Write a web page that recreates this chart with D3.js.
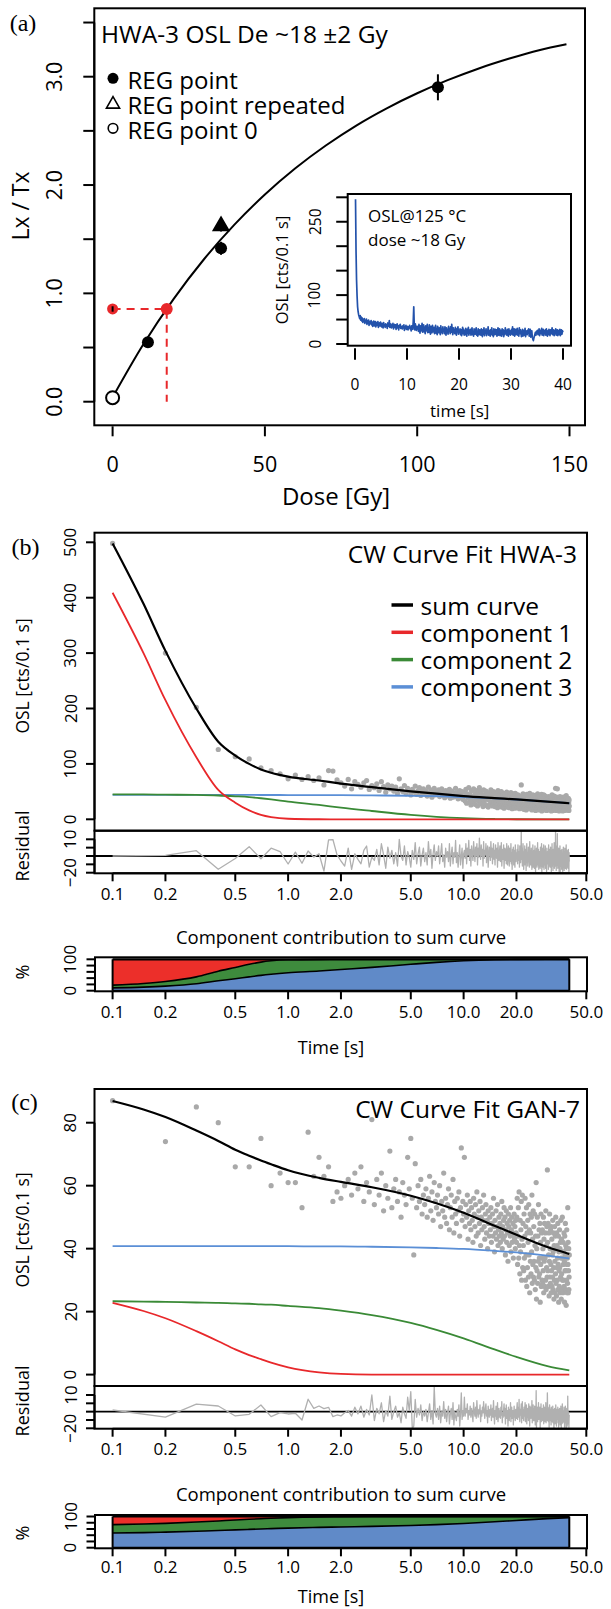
<!DOCTYPE html>
<html><head><meta charset="utf-8">
<script src="https://cdn.jsdelivr.net/npm/d3@7"></script>
<style>
html,body{margin:0;padding:0;background:#fff;}
svg{display:block;font-family:"Open Sans",sans-serif;}
</style></head><body>
<svg id="fig" width="611" height="1609"></svg>
<script>
// ================= DATA =================
// (a) dose-response curve
const regDose = [11.6, 35.6, 106.8];
const regLxTx = [0.548, 1.416, 2.902];
const regErr = [0.02, 0.06, 0.12];
const repDose = [35.6];
const repLxTx = [1.631];
const repErr = [0.06];
const zeroDose = [0];
const zeroLxTx = [0.037];
const natDose = [0];
const natLxTx = [0.856];
const natErr = [0.025];
const deDose = [17.77];
const fitDose = [0,10,20,30,40,50,60,70,80,90,100,110,120,130,140,149];
const fitLxTx = [0.04,0.525,0.947,1.315,1.634,1.913,2.155,2.365,2.549,2.708,2.847,2.968,3.074,3.165,3.245,3.30];
const doseTicks = [0,50,100,150];
const lxTicks = [0,0.5,1,1.5,2,2.5,3,3.5];
const lxTickLabels = ["0.0","","1.0","","2.0","","3.0",""];
const legendA = ["REG point","REG point repeated","REG point 0"];

// (a) inset OSL decay curve, 0.1 s channels
const insetCounts = [
296,190,131,98,76,66,60,56,52,58, 49,55,47,53,44,50,46,52,42,48,
45,51,40,47,43,49,38,46,41,44, 48,39,45,36,43,47,37,42,46,35,
41,44,38,46,34,40,43,37,45,39, 35,42,38,33,44,37,40,34,41,36,
39,32,43,36,38,48,34,37,41,33, 38,35,42,31,37,40,34,39,30,36,
41,33,37,29,38,35,40,32,36,34, 31,37,33,39,28,35,32,38,30,34,
36,29,35,33,38,31,34,27,37,32, 30,46,76,35,29,41,33,28,36,31,
36,26,40,30,22,37,27,33,42,24, 29,39,25,34,21,37,27,31,40,23,
33,24,39,28,20,36,26,23,38,30, 25,34,21,29,38,22,31,19,36,27,
23,33,28,19,37,24,30,21,35,26, 30,21,35,25,18,33,23,29,20,36,
26,31,21,35,24,40,28,19,33,23, 29,21,34,24,18,31,26,35,20,28,
24,31,19,29,17,27,34,21,30,18, 27,19,32,24,16,30,22,34,18,28,
22,30,18,27,33,19,25,16,31,23, 20,28,33,18,26,16,31,23,19,29,
26,18,31,23,15,29,20,33,17,27, 23,31,17,26,21,35,18,28,24,16,
29,20,33,18,26,15,31,23,19,30, 20,29,16,27,33,18,24,31,17,28,
24,16,31,20,29,15,27,19,33,21, 27,18,30,23,16,31,20,27,18,25,
30,20,35,18,27,31,16,24,30,19, 25,32,18,27,16,33,21,29,24,15,
22,30,16,28,25,18,32,15,27,21, 19,28,22,31,16,25,30,14,22,27,
14,10,7,12,16,20,24,18,26,21, 28,19,25,31,17,28,21,26,32,18,
24,30,17,27,21,29,18,31,23,16, 27,19,30,24,17,29,21,26,33,19,
24,29,17,27,21,31,18,25,29,17, 22,28,19,30,17,25,29,20,27,24];
const insetTimeTicks = [0,10,20,30,40];
const insetCountTicks = [0,50,100,150,200,250,300];
const insetCountLabels = ["0","","100","","","250",""];

// time axis of the CW curves (log)
const timeTicks = [0.1,0.2,0.5,1,2,5,10,20,50];
const timeTickLabels = ["0.1","0.2","0.5","1.0","2.0","5.0","10.0","20.0","50.0"];
const resTicks = [-20,-12.5,-5,2.5,10];
const resTickLabels = ["\u221220","","","","10"];
const resRefLine = -5;
const pctTicks = [0,20,40,60,80,100];
const pctTickLabels = ["0","","","","","100"];

// (b) HWA-3 fit
const compTime = [0.1,0.15,0.2,0.3,0.4,0.5,0.6,0.7,0.8,1,1.5,2,3,5,7,10,15,20,30,40];
const bComp1 = [409,300,215,112,53,30,16,8,4,1,0.1,0,0,0,0,0,0,0,0,0];
const bComp2 = [45,45,44.5,44,43,41.5,40,38,36,32,26,21,15,8,4.5,2,0.5,0.1,0,0];
const bComp3 = [44,44,44,44,44,44,44,43.9,43.9,43.8,43.6,43.5,43.1,42.5,41.7,40,37.8,35.7,32,29];
const bSum   = [498,389,304,200,140,115,100,90,84,77,70,64.5,58,50.5,46.2,42,38.3,35.8,32,29];
const bYTicks = [0,100,200,300,400,500];
const bObs = [
498,300,202,126,113,109,93,88,82,73, 80,72,77,70,75,62,88,87,71,66,
60,72,55,68,63,58,66,70,54,61, 57,64,52,68,59,49,62,55,60,51,
58,47,73,55,50,61,46,56,52,44, 54,49,60,45,52,57,43,50,55,47,
51,42,58,47,53,40,49,56,44,50, 46,53,41,48,55,43,47,39,52,45,
49,42,54,38,46,51,40,47,44,56, 41,48,37,45,52,39,44,50,36,47,
48,33,54,29,46,39,57,31,44,26, 51,37,30,55,42,27,47,35,52,24,
46,32,57,38,28,50,34,43,23,53, 30,44,36,51,25,41,48,22,35,47,
39,28,53,33,45,24,37,50,29,42, 23,48,35,31,44,21,52,34,27,40,
45,26,38,50,22,34,43,29,47,20, 36,45,27,41,24,49,32,22,39,46,
31,21,43,35,26,48,23,37,19,42, 34,46,22,30,40,20,47,33,25,38,
29,41,21,44,33,24,38,19,42,31, 23,37,62,26,41,20,34,46,25,18,
39,28,43,21,33,40,17,31,45,24, 35,20,29,42,24,36,19,47,27,38,
21,32,41,24,17,37,28,44,20,34, 25,39,19,31,43,23,16,36,27,41,
30,20,34,46,21,28,40,17,33,24, 37,25,18,42,29,21,35,45,15,27,
32,23,40,19,30,44,17,26,38,21, 28,42,18,35,24,31,16,39,26,33,
20,36,26,17,41,29,19,34,23,38, 18,31,40,21,27,15,37,24,44,19,
34,23,16,38,28,20,32,42,18,26, 36,19,29,56,24,33,16,27,40,21,
31,55,23,18,37,26,19,39,28,15, 24,35,20,41,16,31,26,19,37,23,
29,17,38,22,34,20,15,32,25,40, 19,37,26,16,33,23,39,20,35,17,
27,20,34,43,17,30,22,37,19,32, 23,33,17,28,38,20,30,16,35,24];
const bRes = [
-5,-4.5,-0.2,-16.9,-7.2,3.4,-7.5,2,-1,-12.2, -1.5,-11.5,-0.5,-6,-3,-18.5,9.4,9.8,-4,-9.5,
-14,2,-17,-3,-8,-12,0,4,-15,-6, -9,1,-13,6,-4,-16,3,-7,0,-12,
-2,-14,10,-5,-9,4,-13,-1,-6,-15, 0,-8,7,-12,-3,3,-14,-4,2,-10,
-2,-13,8,-6,1,-16,-3,5,-9,-1, -5,4,-12,-3,6,-10,-4,-15,2,-6,
-1,-10,6,-14,-3,3,-12,-2,-6,9, -11,-2,-15,-4,5,-13,-5,2,-16,-3,
0,-7,6,-12,2,-4,9,-9,1,-14, 4,-3,-9,8,-1,-10,3,-5,6,-13,
2,-6,11,-2,-8,5,-5,1,-14,8, -7,0,-4,6,-11,-1,4,-15,-5,3,
-1,-9,8,-6,2,-12,-3,6,-8,0, -13,5,-4,-7,2,-15,7,-6,-9,-1,
4,-10,-3,7,-14,-5,1,-8,5,-16, -3,2,-9,1,-12,6,-6,-13,-1,4,
-6,-14,2,-4,-10,6,-12,-2,-17,1, -4,3,-13,-7,0,-15,5,-5,-10,-2,
-6,1,-12,5,-4,-9,-1,-15,4,-5, -11,-2,18,-8,2,-14,-4,6,-10,-17,
-1,-7,4,-13,-3,1,-18,-5,6,-11, -2,-14,-6,3,-10,-3,-15,8,-8,0,
-13,-5,2,-11,-17,-1,-6,5,-15,-3, -10,0,-16,-5,4,-12,-19,-1,-8,2,
-7,-15,-3,7,-13,-8,1,-17,-4,-11, -1,-9,-16,3,-6,-14,-2,6,-20,-8,
-4,-11,2,-15,-6,5,-17,-9,0,-13, -7,4,-16,-1,-10,-5,-19,2,-9,-3,
-12,-1,-8,-17,5,-6,-14,-2,-11,1, -15,-4,3,-13,-9,-19,-1,-10,6,-14,
-2,-10,-18,1,-6,-12,-4,7,-16,-8, 0,-14,-7,17,-11,-3,-18,-8,4,-13,
-5,15,-10,-16,-1,-9,-15,2,-6,-19, -10,-2,-13,4,-20,-4,-8,-14,0,-11,
-6,-17,1,-11,-3,-13,-19,-5,-9,3, -15,-1,-9,-18,-4,-11,2,-14,-3,-16,
-8,-13,-2,5,-17,-6,-11,0,-15,-5, -10,-4,-16,-8,1,-13,-6,-19,-2,-10];

// (c) GAN-7 fit
const cComp1 = [22.8,20.2,17.9,13.8,10.6,8.0,6.2,4.9,3.8,2.3,0.7,0.2,0.02,0,0,0,0,0,0,0];
const cComp2 = [23.3,23.2,23.1,22.9,22.8,22.6,22.5,22.3,22.2,21.8,21.1,20.3,18.9,16.4,14.2,11.5,8.0,5.6,2.7,1.35];
const cComp3 = [40.8,40.8,40.8,40.8,40.8,40.8,40.8,40.8,40.8,40.8,40.7,40.7,40.6,40.4,40.2,39.9,39.3,38.8,37.8,36.9];
const cSum   = [86.9,84.2,81.8,77.5,74.2,71.4,69.5,68.0,66.8,64.9,62.5,61.2,59.5,56.8,54.4,51.4,47.3,44.4,40.5,38.3];
const cYTicks = [0,20,40,60,80];
const cObs = [
87,74,85,80,66,66,75,60,64,61, 61,53,77,63,69,63,66,55,58,56,
60,62,57,64,59,66,55,61,58,81, 54,62,57,64,52,60,56,71,53,59,
62,55,58,50,61,57,54,69,59,75, 56,38,67,53,60,55,62,51,57,54,
59,50,56,63,52,58,49,61,55,53, 57,51,60,47,55,52,64,50,56,48,
54,59,46,53,57,50,62,45,55,51, 48,56,52,58,44,53,72,49,55,51,
69,47,54,50,57,43,52,48,55,46, 53,49,42,56,51,47,54,44,58,50,
45,52,48,55,41,50,46,53,49,57, 47,43,51,54,45,49,40,52,48,44,
50,46,53,42,48,51,44,56,47,39, 49,45,52,43,47,54,41,46,50,44,
48,42,51,45,55,40,47,43,49,53, 44,50,38,46,52,42,48,45,36,51,
47,41,49,44,53,39,46,50,42,45, 48,37,44,51,43,47,40,49,45,42,
50,56,35,44,53,37,58,41,32,49, 39,46,55,30,43,57,34,48,41,33,
51,37,44,56,30,47,38,53,28,45, 34,49,42,31,54,38,46,26,51,36,
45,32,50,39,57,29,43,35,52,31, 47,36,30,51,41,27,44,34,61,24,
40,33,50,29,44,36,54,31,46,37, 32,48,23,42,35,51,28,45,37,30,
46,29,40,33,50,26,43,36,48,28, 37,45,30,52,27,41,34,47,31,65,
42,33,48,28,38,45,25,36,51,31, 40,29,46,35,26,47,33,43,28,38,
31,49,27,39,45,34,24,41,30,47, 36,26,44,32,50,29,40,25,45,34,
41,30,37,48,27,35,44,23,39,33, 28,46,34,40,26,42,31,49,37,24,
43,32,27,39,50,30,37,26,42,35, 30,39,45,28,36,23,44,33,38,48,
27,41,33,22,40,30,46,35,26,37, 29,53,35,42,26,33,40,27,31,38];
const cRes = [
-3.5,-10,1.7,0.1,-8.9,-7.4,1,-9.5,-5.9,-7.1, -6.5,-12.5,6.2,-2,0.1,-2.3,-1.1,-9.5,-8,-8.9,
-6,-4,-9,-1,-7,0,-10,-3,-8,10, -13,-2,-7,3,-14,-4,-9,9,-12,-5,
0,-10,-6,-15,-1,-7,-11,8,-4,13, -20,-18,6,-10,-2,-8,1,-13,-5,-9,
-3,-14,-6,2,-12,-4,-16,17.5,-7,-10, -2,-12,0,-15,-5,-9,4,-11,-3,-14,
-6,0,-16,-7,-2,-12,3,-17,-5,-10, -13,-3,-9,1,-18,-7,12,-12,-4,-9,
8,-9,-2,-6,2,-12,-4,-8,0,-10, -2,-7,-14,3,-5,-9,-1,-11,5,-6,
-10,-3,-7,1,-14,-5,-9,-1,-6,4, -6,-11,-2,2,-9,-4,-15,0,-6,-10,
-3,-8,1,-13,-5,-2,-10,5,-7,-16, -4,-9,0,-12,-6,3,-14,-8,-2,-10,
-5,-11,-1,-8,4,-15,-6,-10,-3,2, -9,-2,-16,-7,1,-11,-4,-8,-18,-1,
-6,-13,-3,-9,3,-14,-6,-1,-11,-7, -4,-17,-8,0,-10,-5,-13,-3,-7,-11,
-2,3,-12,-6,-1,-10,6,-8,-14,-3, -8,-4,2,-15,-5,4,-11,-3,-7,-13,
-1,-9,-5,3,-14,-4,-8,1,-16,-5, -10,-2,-7,-13,2,-8,-4,-18,0,-9,
-3,-11,-1,-7,5,-15,-5,-10,1,-13, -2,-8,-13,0,-6,-17,-3,-9,14,-20,
-4,-10,-1,-14,-5,-9,3,-12,-3,-7, -11,-1,-20,-5,-10,2,-14,-4,-8,-12,
-2,-13,-6,-10,1,-16,-5,-9,-1,-14, -7,-3,-12,3,-15,-6,-10,-2,-13,12,
-4,-10,-1,-14,-7,-3,-19,-8,1,-11, -5,-13,-3,-9,-17,-1,-10,-5,-14,-6,
-11,0,-15,-7,-3,-10,-20,-6,-13,-2, -8,-16,-4,-11,1,-14,-6,-18,-3,-9,
-5,-12,-8,-1,-15,-10,-3,-19,-6,-11, -14,-2,-10,-7,-17,-5,-12,0,-8,-20,
-3,-11,-16,-6,2,-13,-8,-15,-5,-9, -12,-7,-1,-14,-9,-19,-3,-10,-8,0,
-15,-5,-11,-20,-6,-13,-2,-9,-18,-8, -13,9,-9,-4,-16,-10,-6,-19,-11,-8];

const legendB = ["sum curve","component 1","component 2","component 3"];

// ================= DRAWING =================
const svg = d3.select("#fig");
const col = {red:"#e8282b", green:"#3a8a36", blue:"#5b8fd6", gray:"#a9a9a9",
             fRed:"#ec2f2a", fGreen:"#3e8b3d", fBlue:"#608ac8", inset:"#2352ab"};

function txt(g, x, y, s, size, o = {}) {
  const t = g.append("text").attr("x", x).attr("y", y).text(s)
    .attr("font-size", size).attr("fill", "#000")
    .attr("text-anchor", o.anchor || "start")
    .attr("dominant-baseline", o.base || "central");
  if (o.family) t.attr("font-family", o.family);
  if (o.rot) t.attr("transform", `rotate(-90,${x},${y})`);
  return t;
}
function hline(g, x1, x2, y, w = 1.8, c = "#000") {
  return g.append("line").attr("x1", x1).attr("x2", x2).attr("y1", y).attr("y2", y).attr("stroke", c).attr("stroke-width", w);
}
function vline(g, x, y1, y2, w = 1.8, c = "#000") {
  return g.append("line").attr("x1", x).attr("x2", x).attr("y1", y1).attr("y2", y2).attr("stroke", c).attr("stroke-width", w);
}
const chanTime = i => (i + 1) / 10;

// ---------- panel (a) ----------
(function () {
  const g = svg.append("g");
  const A = {l: 94.3, r: 585, t: 8.3, b: 425.3};
  const x = d3.scaleLinear().domain([0, 150]).range([112.6, 569.5]);
  const y = d3.scaleLinear().domain([0, 3]).range([401.7, 76.7]);

  txt(g, 23, 23, "(a)", 24, {anchor: "middle", family: "Liberation Serif"});
  vline(g, A.l, y(0), y(3.5), 2);
  lxTicks.forEach((v, i) => {
    hline(g, A.l - 11, A.l, y(v), 2);
    if (lxTickLabels[i]) txt(g, 54, y(v), lxTickLabels[i], 21.5, {anchor: "middle", rot: true});
  });
  txt(g, 20, 206, "Lx / Tx", 23, {anchor: "middle", rot: true});
  doseTicks.forEach(v => {
    vline(g, x(v), A.b + 1, A.b + 11, 2);
    txt(g, x(v), 463, String(v), 21.5, {anchor: "middle"});
  });
  txt(g, 336, 495, "Dose [Gy]", 24, {anchor: "middle"});
  g.append("rect").attr("x", A.l).attr("y", A.t).attr("width", A.r - A.l).attr("height", A.b - A.t)
    .attr("fill", "none").attr("stroke", "#000").attr("stroke-width", 2);

  const fit = fitDose.map((d, i) => [d, fitLxTx[i]]);
  g.append("path").datum(fit).attr("fill", "none").attr("stroke", "#000").attr("stroke-width", 2)
    .attr("d", d3.line().x(d => x(d[0])).y(d => y(d[1])).curve(d3.curveMonotoneX));

  g.append("path").attr("fill", "none").attr("stroke", col.red).attr("stroke-width", 2)
    .attr("stroke-dasharray", "8,6")
    .attr("d", `M${x(natDose[0])},${y(natLxTx[0])}H${x(deDose[0])}V${y(0)}`);

  regDose.forEach((d, i) => {
    vline(g, x(d), y(regLxTx[i] - regErr[i]), y(regLxTx[i] + regErr[i]), 2);
    g.append("circle").attr("cx", x(d)).attr("cy", y(regLxTx[i])).attr("r", 6).attr("fill", "#000");
  });
  const tri = d3.symbol().type(d3.symbolTriangle).size(95);
  repDose.forEach((d, i) => {
    vline(g, x(d), y(repLxTx[i] - repErr[i]), y(repLxTx[i] + repErr[i]), 2);
    g.append("path").attr("d", tri()).attr("transform", `translate(${x(d)},${y(repLxTx[i]) + 1})`)
      .attr("fill", "#000").attr("stroke", "#000").attr("stroke-width", 2);
  });
  zeroDose.forEach((d, i) => {
    g.append("circle").attr("cx", x(d)).attr("cy", y(zeroLxTx[i])).attr("r", 6.5)
      .attr("fill", "#fff").attr("stroke", "#000").attr("stroke-width", 2);
  });
  natDose.forEach((d, i) => {
    g.append("circle").attr("cx", x(d)).attr("cy", y(natLxTx[i])).attr("r", 5.5).attr("fill", col.red);
    vline(g, x(d), y(natLxTx[i] - natErr[i]), y(natLxTx[i] + natErr[i]), 2);
  });
  g.append("circle").attr("cx", x(deDose[0])).attr("cy", y(natLxTx[0])).attr("r", 6).attr("fill", col.red);

  txt(g, 101, 33, "HWA-3 OSL De ~18 \u00B12 Gy", 24.5);
  const ly = [78.3, 103.3, 128.3];
  g.append("circle").attr("cx", 113).attr("cy", ly[0]).attr("r", 5.5).attr("fill", "#000");
  g.append("path").attr("d", d3.symbol().type(d3.symbolTriangle).size(75)()).attr("transform", `translate(113,${ly[1] + 1})`)
    .attr("fill", "none").attr("stroke", "#000").attr("stroke-width", 1.6);
  g.append("circle").attr("cx", 113).attr("cy", ly[2]).attr("r", 4.8).attr("fill", "none").attr("stroke", "#000").attr("stroke-width", 1.6);
  legendA.forEach((s, i) => txt(g, 127.5, ly[i] + 1, s, 24));

  // inset
  const I = {l: 347.7, r: 571, t: 194, b: 345.7};
  const xi = d3.scaleLinear().domain([0, 40]).range([355, 563]);
  const yi = d3.scaleLinear().domain([0, 300]).range([344, 197.3]);
  g.append("rect").attr("x", I.l).attr("y", I.t).attr("width", I.r - I.l).attr("height", I.b - I.t)
    .attr("fill", "#fff").attr("stroke", "#000").attr("stroke-width", 2);
  g.append("clipPath").attr("id", "clipI").append("rect").attr("x", I.l).attr("y", I.t).attr("width", I.r - I.l).attr("height", I.b - I.t);
  g.append("path").datum(insetCounts).attr("clip-path", "url(#clipI)").attr("fill", "none")
    .attr("stroke", col.inset).attr("stroke-width", 1.7).attr("stroke-linejoin", "round")
    .attr("d", d3.line().x((d, i) => xi(chanTime(i))).y(d => yi(d)));
  insetCountTicks.forEach((v, i) => {
    hline(g, I.l - 11.5, I.l, yi(v), 2);
    if (insetCountLabels[i]) txt(g, 314.5, yi(v), insetCountLabels[i], 15.5, {anchor: "middle", rot: true});
  });
  insetTimeTicks.forEach(v => {
    vline(g, xi(v), I.b + 2.5, I.b + 14, 2);
    txt(g, xi(v), 383.5, String(v), 15.5, {anchor: "middle"});
  });
  txt(g, 459.7, 410, "time [s]", 17, {anchor: "middle"});
  txt(g, 281, 270, "OSL [cts/0.1 s]", 16.5, {anchor: "middle", rot: true});
  txt(g, 368, 215, "OSL@125 \u00B0C", 17);
  txt(g, 368, 239, "dose ~18 Gy", 17);
})();

// ---------- panels (b) and (c) ----------
const xT = d3.scaleLog().domain([0.1, 50]).range([112.6, 586.3]);
const L = 94.5, R = 587;

function drawFit(cfg) {
  const g = svg.append("g");
  const y = d3.scaleLinear().domain(cfg.yDomain).range(cfg.yRange);
  const yr = d3.scaleLinear().domain([-20, 10]).range(cfg.resRange);
  const id = cfg.id;

  txt(g, cfg.tag[0], cfg.tag[1], cfg.tagText, 24, {anchor: "middle", family: "Liberation Serif"});

  g.append("clipPath").attr("id", "cm" + id).append("rect").attr("x", L).attr("y", cfg.top).attr("width", R - L).attr("height", cfg.mid - cfg.top);
  g.append("clipPath").attr("id", "cr" + id).append("rect").attr("x", L).attr("y", cfg.mid).attr("width", R - L).attr("height", cfg.bot - cfg.mid);

  const gm = g.append("g").attr("clip-path", `url(#cm${id})`);
  gm.selectAll("circle").data(cfg.obs).join("circle")
    .attr("cx", (d, i) => xT(chanTime(i))).attr("cy", d => y(d)).attr("r", 2.6).attr("fill", col.gray);

  const line = arr => d3.line().x((d, i) => xT(compTime[i])).y(d => y(d)).curve(d3.curveMonotoneX)(arr);
  [[cfg.c3, col.blue], [cfg.c2, col.green], [cfg.c1, col.red], [cfg.sum, "#000"]].forEach(([arr, c], k) => {
    gm.append("path").attr("d", line(arr)).attr("fill", "none").attr("stroke", c)
      .attr("stroke-width", k === 3 ? 2.2 : 1.8);
  });

  const grr = g.append("g").attr("clip-path", `url(#cr${id})`);
  hline(grr, L, R, yr(resRefLine), 1.8);
  grr.append("path").datum(cfg.res).attr("fill", "none").attr("stroke", "#b0b0b0").attr("stroke-width", 1.3)
    .attr("stroke-linejoin", "round")
    .attr("d", d3.line().x((d, i) => xT(chanTime(i))).y(d => yr(d)));

  g.append("rect").attr("x", L).attr("y", cfg.top).attr("width", R - L).attr("height", cfg.mid - cfg.top)
    .attr("fill", "none").attr("stroke", "#000").attr("stroke-width", 2);
  g.append("rect").attr("x", L).attr("y", cfg.mid).attr("width", R - L).attr("height", cfg.bot - cfg.mid)
    .attr("fill", "none").attr("stroke", "#000").attr("stroke-width", 2);

  cfg.yTicks.forEach(v => {
    hline(g, L - 8.5, L, y(v), 2);
    txt(g, 70, y(v), String(v), 17, {anchor: "middle", rot: true});
  });
  vline(g, L, y(cfg.yTicks[0]), y(cfg.yTicks[cfg.yTicks.length - 1]), 2);
  txt(g, 22, cfg.yLabY, "OSL [cts/0.1 s]", 17.5, {anchor: "middle", rot: true});
  resTicks.forEach((v, i) => {
    hline(g, L - 8.5, L, yr(v), 2);
    if (resTickLabels[i]) txt(g, 70, yr(v), resTickLabels[i], 17, {anchor: "middle", rot: true});
  });
  vline(g, L, yr(-20), yr(10), 2);
  txt(g, 22, cfg.resLabY, "Residual", 18, {anchor: "middle", rot: true});
  timeTicks.forEach((v, i) => {
    vline(g, xT(v), cfg.bot + 0.5, cfg.bot + 8, 2);
    txt(g, xT(v), cfg.xLabY, timeTickLabels[i], 17, {anchor: "middle"});
  });
  hline(g, xT(0.1), xT(50), cfg.bot, 2);

  txt(g, cfg.titlePos[0], cfg.titlePos[1], cfg.title, 24.5, {anchor: "end", base: "auto"});
  if (cfg.legend) {
    const cols = ["#000", col.red, col.green, col.blue];
    cfg.legend.forEach((s, i) => {
      const yy = 605 + i * 27.3;
      hline(g, 391.5, 413, yy, 3.5, cols[i]);
      txt(g, 420.5, yy, s, 24.5);
    });
  }

  // contribution plot
  const C = cfg.contrib;
  const yc = d3.scaleLinear().domain([0, 100]).range([C.y0, C.y100]);
  const st = compTime.map((t, i) => {
    const s = cfg.c1[i] + cfg.c2[i] + cfg.c3[i];
    const p3 = cfg.c3[i] / s * 100, p2 = cfg.c2[i] / s * 100;
    return {t, p3, p23: p3 + p2};
  });
  const ar = (lo, hi) => d3.area().x(d => xT(d.t)).y0(d => yc(lo(d))).y1(d => yc(hi(d))).curve(d3.curveMonotoneX)(st);
  g.append("path").attr("d", ar(d => 0, d => d.p3)).attr("fill", col.fBlue);
  g.append("path").attr("d", ar(d => d.p3, d => d.p23)).attr("fill", col.fGreen);
  g.append("path").attr("d", ar(d => d.p23, d => 100)).attr("fill", col.fRed);
  const ln = f => d3.line().x(d => xT(d.t)).y(d => yc(f(d))).curve(d3.curveMonotoneX)(st);
  g.append("path").attr("d", ln(d => d.p3)).attr("fill", "none").attr("stroke", "#000").attr("stroke-width", 1.6);
  g.append("path").attr("d", ln(d => d.p23)).attr("fill", "none").attr("stroke", "#000").attr("stroke-width", 1.6);
  const t0 = xT(compTime[0]), t1 = xT(compTime[compTime.length - 1]);
  hline(g, t0, t1, yc(100), 2.2);
  hline(g, t0, t1, yc(0), 2);
  vline(g, t0, yc(0), yc(100), 2);
  vline(g, t1, yc(0), yc(100), 2);
  g.append("rect").attr("x", L + 0.5).attr("y", C.top).attr("width", R - L - 0.5).attr("height", C.bot - C.top)
    .attr("fill", "none").attr("stroke", "#000").attr("stroke-width", 2);
  pctTicks.forEach((v, i) => {
    hline(g, L - 8, L + 0.5, yc(v), 2);
    if (pctTickLabels[i]) txt(g, 70, yc(v), pctTickLabels[i], 17, {anchor: "middle", rot: true});
  });
  txt(g, 22, C.pctY, "%", 18, {anchor: "middle", rot: true});
  txt(g, 341, C.titleY, "Component contribution to sum curve", 18.5, {anchor: "middle"});
  timeTicks.forEach((v, i) => {
    vline(g, xT(v), C.bot + 0.5, C.bot + 8, 2);
    txt(g, xT(v), C.xLabY, timeTickLabels[i], 17, {anchor: "middle"});
  });
  txt(g, 331, C.timeY, "Time [s]", 18, {anchor: "middle"});
}

drawFit({
  id: "b", tagText: "(b)", tag: [25.5, 546.7],
  title: "CW Curve Fit HWA-3", titlePos: [577, 563],
  top: 532.7, mid: 830.7, bot: 873.3,
  yDomain: [0, 500], yRange: [819.3, 542.3], yTicks: bYTicks,
  resRange: [872.7, 839.3],
  yLabY: 676, resLabY: 846, xLabY: 893.5,
  obs: bObs, res: bRes, c1: bComp1, c2: bComp2, c3: bComp3, sum: bSum,
  legend: legendB,
  contrib: {top: 957.3, bot: 991.3, y0: 990.7, y100: 959.3, titleY: 936.7, xLabY: 1011.7, timeY: 1046.7, pctY: 972}
});
drawFit({
  id: "c", tagText: "(c)", tag: [24.5, 1101.7],
  title: "CW Curve Fit GAN-7", titlePos: [580, 1118],
  top: 1089, mid: 1386, bot: 1428.7,
  yDomain: [0, 80], yRange: [1374.6, 1122.7], yTicks: cYTicks,
  resRange: [1428.3, 1395],
  yLabY: 1230, resLabY: 1401, xLabY: 1448.5,
  obs: cObs, res: cRes, c1: cComp1, c2: cComp2, c3: cComp3, sum: cSum,
  legend: null,
  contrib: {top: 1515, bot: 1548.3, y0: 1547.7, y100: 1516.5, titleY: 1493.3, xLabY: 1566.7, timeY: 1595.5, pctY: 1533}
});
</script>
</body></html>
